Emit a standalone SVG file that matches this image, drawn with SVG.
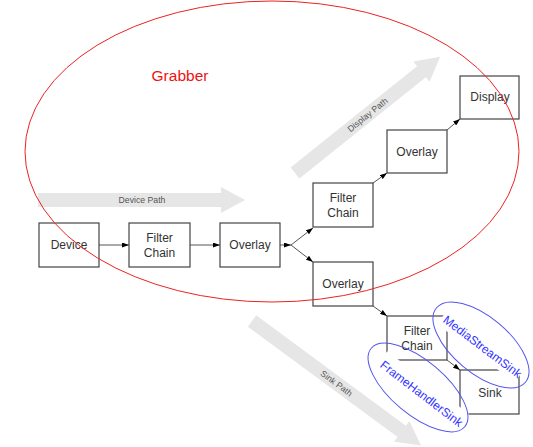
<svg xmlns="http://www.w3.org/2000/svg" width="533" height="447" viewBox="0 0 533 447">
<defs>
<style>
.box{fill:#fff;stroke:#444;stroke-width:1.2}
.lbl{font-family:"Liberation Sans",Arial,sans-serif;font-size:12px;fill:#333;text-anchor:middle}
.path{fill:#e6e6e6}
.plbl{font-family:"Liberation Sans",Arial,sans-serif;font-size:8.7px;fill:#555;text-anchor:middle}
.con{stroke:#555;stroke-width:1;fill:none}
.sinklbl{font-family:"Liberation Sans",Arial,sans-serif;font-size:12px;fill:#3333ff;text-anchor:middle}
.sinkell{fill:none;stroke:#5555ee;stroke-width:1}
.band{fill:#fff}
</style>
<marker id="ah" viewBox="0 0 7 5" refX="7" refY="2.5" markerWidth="7" markerHeight="5" markerUnits="userSpaceOnUse" orient="auto">
<path d="M0,0 L7,2.5 L0,5 z" fill="#000"/>
</marker>
</defs>
<rect width="533" height="447" fill="#fff"/>

<g id="paths">
<g id="device-path" transform="translate(38,200)">
<polygon class="path" points="0,-7 183,-7 183,-13 207,0 183,13 183,7 0,7"/>
<text class="plbl" x="104" y="3">Device Path</text>
</g>
<g id="display-path" transform="translate(295,173) rotate(-38.7)">
<polygon class="path" points="0,-7 162,-7 162,-13 186,0 162,13 162,7 0,7"/>
<text class="plbl" x="93" y="3">Display Path</text>
</g>
<g id="sink-path" transform="translate(252,321) rotate(36.4)">
<polygon class="path" points="0,-7 186,-7 186,-13 210,0 186,13 186,7 0,7"/>
<text class="plbl" x="105" y="3">Sink Path</text>
</g>
</g>

<g id="connectors">
<line class="con" x1="99" y1="245" x2="129" y2="245" marker-end="url(#ah)"/>
<line class="con" x1="190" y1="245" x2="220" y2="245" marker-end="url(#ah)"/>
<line class="con" x1="280" y1="245" x2="291" y2="245" marker-end="url(#ah)"/>
<line class="con" x1="291" y1="245" x2="313" y2="228" marker-end="url(#ah)"/>
<line class="con" x1="291" y1="245" x2="313" y2="262" marker-end="url(#ah)"/>
<line class="con" x1="373" y1="183" x2="387" y2="173" marker-end="url(#ah)"/>
<line class="con" x1="447" y1="130" x2="460" y2="119" marker-end="url(#ah)"/>
<line class="con" x1="373" y1="306" x2="387" y2="316" marker-end="url(#ah)"/>
<line class="con" x1="447" y1="360" x2="460" y2="370" marker-end="url(#ah)"/>
</g>

<g id="device"><rect class="box" x="39" y="223" width="60" height="44"/><text class="lbl" x="69" y="249">Device</text></g>
<g id="filter-chain-1"><rect class="box" x="129" y="223" width="61" height="44"/><text class="lbl" x="159.5" y="242">Filter</text><text class="lbl" x="159.5" y="257">Chain</text></g>
<g id="overlay-1"><rect class="box" x="220" y="223" width="60" height="44"/><text class="lbl" x="250" y="249">Overlay</text></g>
<g id="filter-chain-2"><rect class="box" x="313" y="183" width="60" height="44"/><text class="lbl" x="343" y="202">Filter</text><text class="lbl" x="343" y="217">Chain</text></g>
<g id="overlay-2"><rect class="box" x="387" y="130" width="60" height="43"/><text class="lbl" x="417" y="156">Overlay</text></g>
<g id="display"><rect class="box" x="460" y="76" width="59" height="43"/><text class="lbl" x="490" y="101">Display</text></g>
<g id="overlay-3"><rect class="box" x="313" y="262" width="60" height="44"/><text class="lbl" x="343" y="288">Overlay</text></g>
<g id="filter-chain-3"><rect class="box" x="387" y="316" width="60" height="44"/><text class="lbl" x="417" y="335">Filter</text><text class="lbl" x="417" y="350">Chain</text></g>
<g id="sink"><rect class="box" x="460" y="370" width="59" height="44"/><text class="lbl" x="490" y="397">Sink</text></g>

<g id="grabber">
<ellipse cx="272" cy="151.5" rx="247" ry="150.5" fill="none" stroke="#ee2222" stroke-width="1"/>
<text x="180" y="81" font-family="'Liberation Sans',Arial,sans-serif" font-size="15.5" fill="#ee1111" text-anchor="middle">Grabber</text>
</g>

<g id="media-stream-sink">
<g transform="translate(480,350) rotate(37)">
<rect class="band" x="-50" y="-17" width="97" height="22"/>
<text class="sinklbl" x="0" y="0">MediaStreamSink</text>
</g>
<ellipse class="sinkell" cx="481" cy="345" rx="58" ry="28" transform="rotate(40 481 345)"/>
</g>

<g id="frame-handler-sink">
<g transform="translate(419,397) rotate(37.5)">
<rect class="band" x="-53" y="-17" width="103" height="22"/>
<text class="sinklbl" x="0" y="0">FrameHandlerSink</text>
</g>
<ellipse class="sinkell" cx="418" cy="387.5" rx="61" ry="27" transform="rotate(40 418 387.5)"/>
</g>
</svg>
